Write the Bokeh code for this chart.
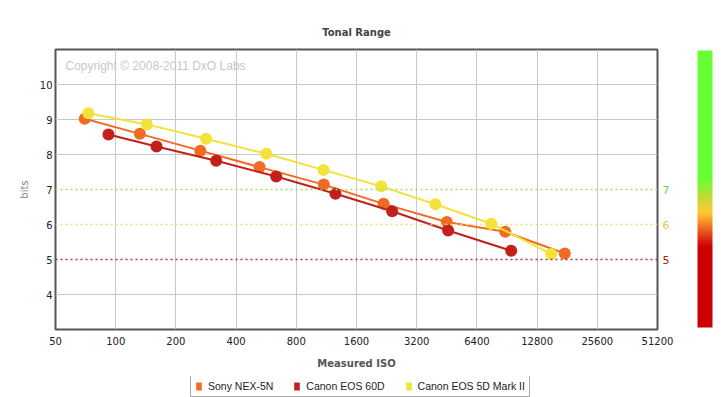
from bokeh.plotting import figure
from bokeh.layouts import column
from bokeh.models import (FixedTicker, NumeralTickFormatter, Span, Label, Legend,
                          LegendItem, ColorBar, LinearColorMapper)
from bokeh.embed import file_html
from bokeh.resources import INLINE

# ---------------- data ----------------
iso_ticks = [50, 100, 200, 400, 800, 1600, 3200, 6400, 12800, 25600, 51200]
bits_ticks = [4, 5, 6, 7, 8, 9, 10]
grid_bits = [4, 8, 9, 10]

sony_iso = [70, 132, 265, 524, 1098, 2185, 4525, 8870, 17600]
sony_bits = [9.02, 8.59, 8.11, 7.64, 7.14, 6.59, 6.07, 5.79, 5.17]

c60d_iso = [92, 160, 318, 635, 1256, 2412, 4596, 9500]
c60d_bits = [8.57, 8.23, 7.82, 7.37, 6.88, 6.38, 5.83, 5.25]

c5d2_iso = [73, 143, 283, 566, 1094, 2127, 3970, 7550, 15050]
c5d2_bits = [9.18, 8.86, 8.45, 8.02, 7.56, 7.09, 6.58, 6.02, 5.16]

series_names = ["Sony NEX-5N", "Canon EOS 60D", "Canon EOS 5D Mark II"]
series_colors = ["#F26B22", "#C1201B", "#F2E23A"]

ref_levels = [7, 6, 5]
ref_line_colors = ["#9BE36A", "#F3D77A", "#A83838"]
ref_label_colors = ["#66DD33", "#F0C840", "#B01818"]

# ---------------- main figure ----------------
p = figure(width=721, height=376, x_axis_type="log", x_range=(50, 51200), y_range=(3, 11),
           output_backend="svg", toolbar_location=None,
           min_border_left=55, min_border_right=64, min_border_top=49, min_border_bottom=47,
           title="Tonal Range")
p.background_fill_color = "white"
p.border_fill_color = "white"
p.outline_line_color = "#555555"
p.outline_line_width = 2

p.title.align = "center"
p.title.text_font = "DejaVu Sans"
p.title.text_font_size = "10px"
p.title.text_font_style = "bold"
p.title.text_color = "#444444"
p.title.standoff = 24

xa = p.xaxis[0]
xa.ticker = FixedTicker(ticks=iso_ticks, minor_ticks=[])
xa.formatter = NumeralTickFormatter(format="0")
xa.axis_label = "Measured ISO"
xa.axis_label_text_font = "DejaVu Sans"
xa.axis_label_text_font_size = "10px"
xa.axis_label_text_font_style = "bold"
xa.axis_label_text_color = "#555555"
xa.axis_label_standoff = 10
xa.major_label_text_font = "DejaVu Sans"
xa.major_label_text_font_size = "10px"
xa.major_label_text_color = "#222222"
xa.major_label_standoff = 7
xa.major_tick_out = 0
xa.major_tick_in = 0
xa.axis_line_color = None
xa.major_tick_line_color = None
xa.minor_tick_line_color = None

ya = p.yaxis[0]
ya.ticker = FixedTicker(ticks=bits_ticks, minor_ticks=[])
ya.axis_label = "bits"
ya.axis_label_text_font = "DejaVu Sans"
ya.axis_label_text_font_size = "10px"
ya.axis_label_text_font_style = "normal"
ya.axis_label_text_color = "#888888"
ya.axis_label_standoff = 7
ya.major_label_text_font = "DejaVu Sans"
ya.major_label_text_font_size = "10px"
ya.major_label_text_color = "#222222"
ya.major_label_standoff = 3
ya.major_tick_out = 0
ya.major_tick_in = 0
ya.axis_line_color = None
ya.major_tick_line_color = None
ya.minor_tick_line_color = None

p.xgrid.grid_line_color = "#C8C8C8"
p.ygrid.grid_line_color = "#C8C8C8"
p.ygrid.ticker = FixedTicker(ticks=grid_bits, minor_ticks=[])

# reference dotted levels
for lvl, lc in zip(ref_levels, ref_line_colors):
    p.add_layout(Span(location=lvl, dimension="width", line_color=lc,
                      line_dash="2 3", line_width=1.5))

# coloured level labels right of the frame (one invisible bar each, label only)
for lvl, tc in zip(ref_levels, ref_label_colors):
    lab = ColorBar(color_mapper=LinearColorMapper(palette=["#FFFFFF"], low=3, high=11),
                   width=1, height=280, location=(604, 0), padding=0, margin=0,
                   ticker=FixedTicker(ticks=[lvl]), major_label_text_color=tc,
                   major_label_text_font="DejaVu Sans", major_label_text_font_size="11px",
                   label_standoff=2, major_tick_line_color=None, major_tick_out=0,
                   major_tick_in=0, minor_tick_line_color=None,
                   bar_line_color=None, scale_alpha=0, border_line_color=None,
                   background_fill_alpha=0)
    p.add_layout(lab)

p.add_layout(Label(x=10, y=264, x_units="screen", y_units="screen",
                   text="Copyright \u00a9 2008-2011 DxO Labs", text_color="#C8C8C8",
                   text_font="Liberation Sans", text_font_size="12px",
                   text_baseline="middle", text_align="left"))

# series
for xs, ys, col in [(sony_iso, sony_bits, series_colors[0]),
                    (c60d_iso, c60d_bits, series_colors[1]),
                    (c5d2_iso, c5d2_bits, series_colors[2])]:
    p.line(xs, ys, line_color=col, line_width=2)
    p.scatter(xs, ys, size=12, fill_color=col, line_color=None)

# colour scale bar on the right
def _hex(c):
    return tuple(int(c[i:i + 2], 16) for i in (1, 3, 5))

stops = [(0.0, "#CC0000"), (0.292, "#CC0000"), (0.343, "#E8501E"), (0.415, "#FFCC33"),
         (0.477, "#BBDD33"), (0.538, "#66FF33"), (1.0, "#66FF33")]
palette = []
n = 277
for i in range(n):
    f = i / (n - 1)
    for (f0, c0), (f1, c1) in zip(stops[:-1], stops[1:]):
        if f0 <= f <= f1:
            t = 0 if f1 == f0 else (f - f0) / (f1 - f0)
            a, b = _hex(c0), _hex(c1)
            rgb = [round(a[k] + (b[k] - a[k]) * t) for k in range(3)]
            palette.append("#%02X%02X%02X" % tuple(rgb))
            break

mapper = LinearColorMapper(palette=palette, low=0, high=1)
cb = ColorBar(color_mapper=mapper, width=15, height=277, location=(642, 2),
              padding=0, margin=0, ticker=FixedTicker(ticks=[]),
              major_tick_line_color=None, bar_line_color=None,
              border_line_color=None, background_fill_alpha=0)
p.add_layout(cb)

# ---------------- legend strip ----------------
p2 = figure(width=721, height=21, x_range=(0, 1), y_range=(0, 1),
            output_backend="svg", toolbar_location=None,
            x_axis_location=None, y_axis_location=None, min_border=0)
p2.grid.visible = False
p2.outline_line_color = None
p2.background_fill_color = "white"
p2.border_fill_color = "white"

items = []
for name, col in zip(series_names, series_colors):
    # legend swatch renderer; its one box lies outside the visible range
    dummy = p2.quad(left=[5], right=[6], top=[5], bottom=[4], fill_color=col, line_color=None)
    items.append(LegendItem(label=name, renderers=[dummy]))

legend = Legend(items=items, orientation="horizontal", location=(135, 0),
                label_text_font="Liberation Sans", label_text_font_size="10.5px",
                label_text_color="#222222", glyph_width=7, glyph_height=10,
                label_standoff=6, spacing=20, padding=4, margin=0,
                label_height=12, border_line_color="#555555", border_line_width=1,
                background_fill_color="white", background_fill_alpha=1)
p2.add_layout(legend)

layout = column(p, p2, spacing=0)
open("out.html", "w").write(file_html(layout, INLINE))
